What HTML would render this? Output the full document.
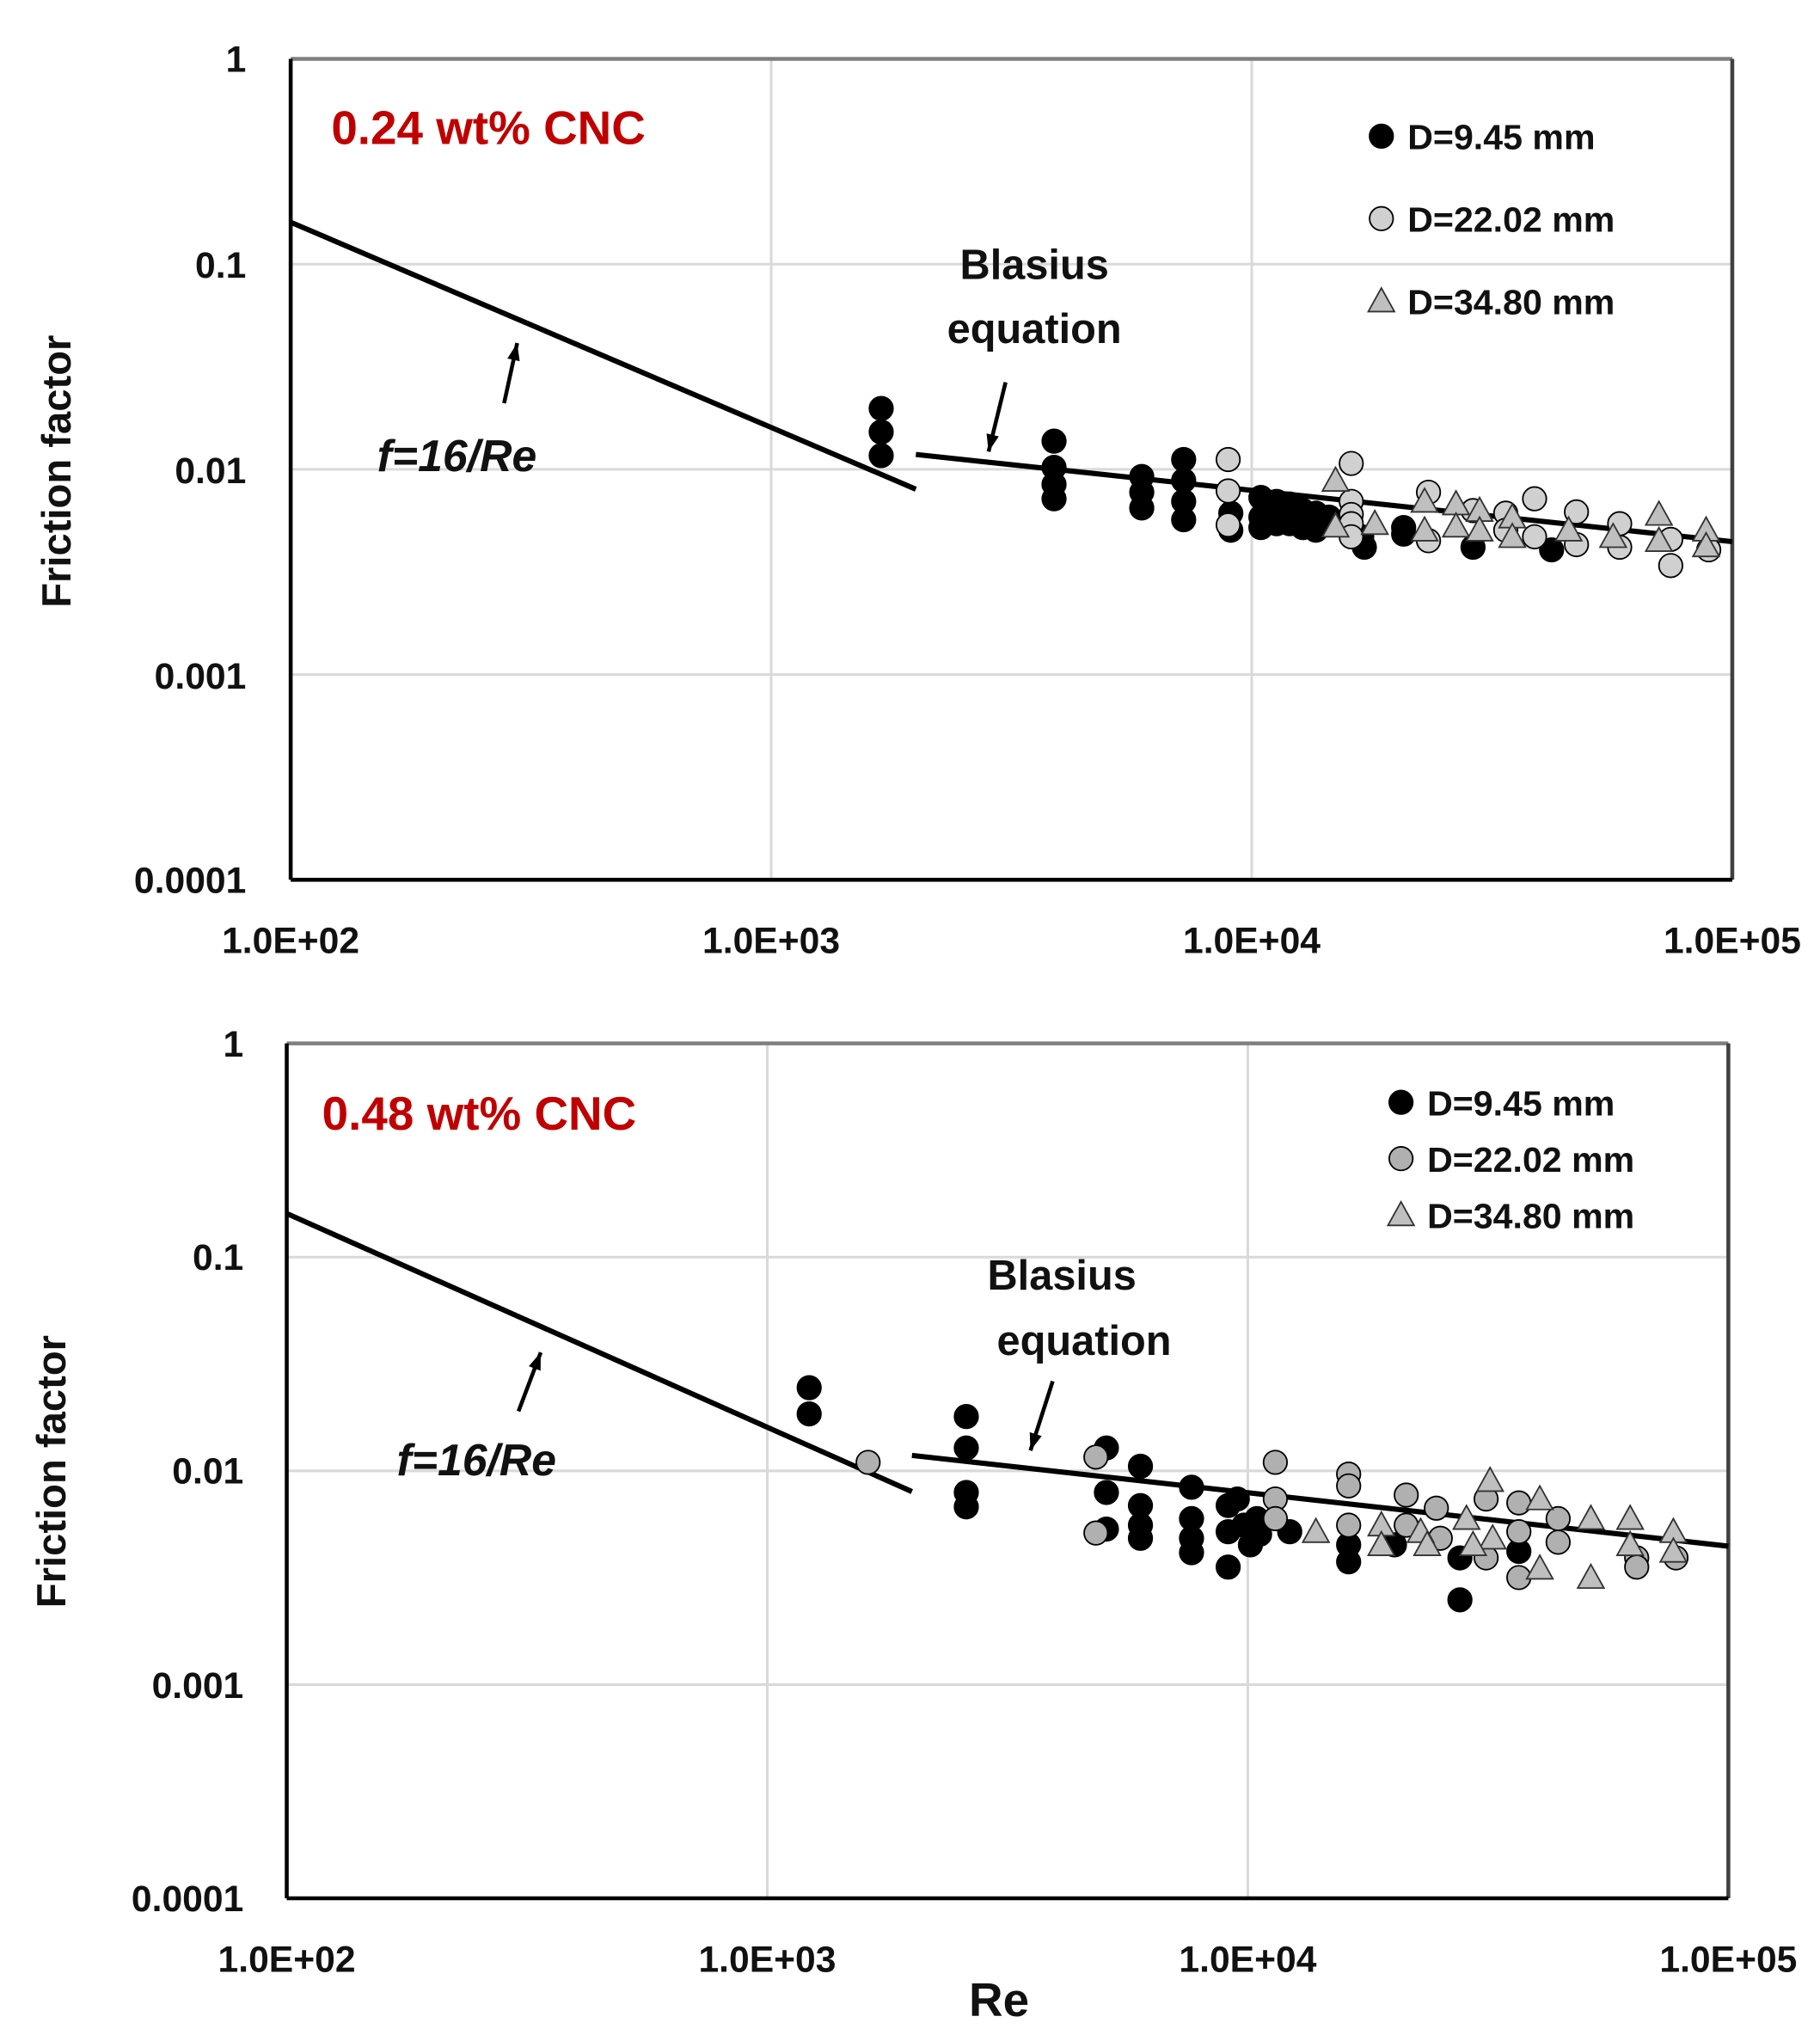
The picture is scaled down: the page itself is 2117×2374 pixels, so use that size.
<!DOCTYPE html>
<html><head><meta charset="utf-8"><style>
html,body{margin:0;padding:0;background:#fff;}
svg{display:block;}
text{font-family:"Liberation Sans",sans-serif;font-weight:bold;fill:#111;}
</style></head><body>
<svg id="s" width="2117" height="2374" viewBox="0 0 1390 1559" preserveAspectRatio="none" xmlns="http://www.w3.org/2000/svg">
<g id="g1"></g>
<text x="188" y="55" font-size="28" text-anchor="end">1</text>
<text x="188" y="212" font-size="28" text-anchor="end">0.1</text>
<text x="188" y="369" font-size="28" text-anchor="end">0.01</text>
<text x="188" y="526" font-size="28" text-anchor="end">0.001</text>
<text x="188" y="682" font-size="28" text-anchor="end">0.0001</text>
<text x="222" y="728" font-size="28" text-anchor="middle">1.0E+02</text>
<text x="589" y="728" font-size="28" text-anchor="middle">1.0E+03</text>
<text x="956" y="728" font-size="28" text-anchor="middle">1.0E+04</text>
<text x="1323" y="728" font-size="28" text-anchor="middle">1.0E+05</text>
<text transform="translate(54,360) rotate(-90)" font-size="31" text-anchor="middle">Friction factor</text>
<text x="253" y="110" font-size="36" style="fill:#c00000">0.24 wt% CNC</text>
<text x="790" y="213" font-size="32" text-anchor="middle">Blasius</text>
<text x="790" y="262" font-size="32" text-anchor="middle">equation</text>
<text x="288" y="360" font-size="34" font-family="Liberation Serif" font-style="italic">f=16/Re</text>
<text x="1075" y="114" font-size="27">D=9.45 mm</text>
<text x="1075" y="177" font-size="27">D=22.02 mm</text>
<text x="1075" y="240" font-size="27">D=34.80 mm</text>
<text x="186" y="807" font-size="28" text-anchor="end">1</text>
<text x="186" y="970" font-size="28" text-anchor="end">0.1</text>
<text x="186" y="1133" font-size="28" text-anchor="end">0.01</text>
<text x="186" y="1297" font-size="28" text-anchor="end">0.001</text>
<text x="186" y="1460" font-size="28" text-anchor="end">0.0001</text>
<text x="219" y="1506" font-size="28" text-anchor="middle">1.0E+02</text>
<text x="586" y="1506" font-size="28" text-anchor="middle">1.0E+03</text>
<text x="953" y="1506" font-size="28" text-anchor="middle">1.0E+04</text>
<text x="1320" y="1506" font-size="28" text-anchor="middle">1.0E+05</text>
<text x="763" y="1540" font-size="36" text-anchor="middle">Re</text>
<text transform="translate(50,1124) rotate(-90)" font-size="31" text-anchor="middle">Friction factor</text>
<text x="246" y="863" font-size="36" style="fill:#c00000">0.48 wt% CNC</text>
<text x="811" y="985" font-size="32" text-anchor="middle">Blasius</text>
<text x="828" y="1035" font-size="32" text-anchor="middle">equation</text>
<text x="303" y="1127" font-size="34" font-family="Liberation Serif" font-style="italic">f=16/Re</text>
<text x="1090" y="852" font-size="27">D=9.45 mm</text>
<text x="1090" y="895" font-size="27">D=22.02 mm</text>
<text x="1090" y="938" font-size="27">D=34.80 mm</text>
</svg>
<script>
var NS="http://www.w3.org/2000/svg",g=document.getElementById("g1");
function el(t,a){var e=document.createElementNS(NS,t);for(var k in a)e.setAttribute(k,a[k]);g.appendChild(e);return e;}
function plot(L,R,T,B){
 var dy=(B-T)/4,dx=(R-L)/3;
 for(var i=1;i<4;i++){el("line",{x1:L,x2:R,y1:T+i*dy,y2:T+i*dy,stroke:"#d9d9d9","stroke-width":2});
  el("line",{x1:L+i*dx,x2:L+i*dx,y1:T,y2:B,stroke:"#d9d9d9","stroke-width":2});}
 el("line",{x1:L,x2:R,y1:T,y2:T,stroke:"#7f7f7f","stroke-width":3});
 el("line",{x1:R,x2:R,y1:T,y2:B,stroke:"#404040","stroke-width":3});
 el("line",{x1:L,x2:L,y1:T,y2:B,stroke:"#000","stroke-width":3});
 el("line",{x1:L,x2:R,y1:B,y2:B,stroke:"#000","stroke-width":3});
 function px(re){return L+dx*Math.log10(re/100);} function py(f){return T-dy*Math.log10(f);}
 el("line",{x1:px(100),y1:py(0.16),x2:px(2000),y2:py(0.008),stroke:"#000","stroke-width":4});
 el("line",{x1:px(2000),y1:py(0.079*Math.pow(2000,-0.25)),x2:px(1e5),y2:py(0.079*Math.pow(1e5,-0.25)),stroke:"#000","stroke-width":4});
}
function circ(p,fill){p.forEach(function(q){el("circle",{cx:q[0],cy:q[1],r:9,fill:fill,stroke:"#000","stroke-width":1.2});});}
function tri(p){p.forEach(function(q){var x=q[0],y=q[1];el("polygon",{points:(x-10)+","+(y+8)+" "+(x+10)+","+(y+8)+" "+x+","+(y-10),fill:"#bfbfbf",stroke:"#333","stroke-width":1.2});});}
function arrow(x1,y1,x2,y2){el("line",{x1:x1,y1:y1,x2:x2,y2:y2,stroke:"#000","stroke-width":3});
 var a=Math.atan2(y2-y1,x2-x1),s=14;
 el("polygon",{points:x2+","+y2+" "+(x2-s*Math.cos(a-0.35))+","+(y2-s*Math.sin(a-0.35))+" "+(x2-s*Math.cos(a+0.35))+","+(y2-s*Math.sin(a+0.35)),fill:"#000"});}
plot(222,1323,45,672);
plot(219,1320,797,1450);
arrow(385,308,395,262);arrow(768,292,755,345);
arrow(396,1078,413,1033);arrow(804,1055,787,1108);
circ([[673,312],[673,330],[673,348],[805,337],[805,357],[805,370],[805,381],[872,364],[872,376],[872,388],[904,351],[904,367],[904,383],[904,397],[940,392],[940,405],[963,380],[963,395],[963,403],[975,383],[975,400],[985,385],[985,400],[995,390],[995,403],[1005,392],[1005,405],[1015,395],[1040,410],[1042,418],[1072,403],[1072,408],[1125,418],[1185,420]],"#000");
circ([[938,351],[938,375],[938,401],[1032,354],[1032,383],[1032,393],[1032,400],[1032,410],[1091,376],[1091,413],[1125,390],[1150,392],[1172,381],[1172,410],[1204,391],[1204,416],[1237,400],[1237,418],[1276,432],[1276,412],[1305,420],[1150,405]],"#d0d0d0");
tri([[1020,367],[1020,402],[1088,383],[1088,405],[1112,385],[1112,402],[1130,390],[1130,405],[1155,395],[1155,410],[1198,405],[1232,410],[1267,393],[1267,413],[1303,405],[1303,417],[1050,400]]);
circ([[618,1060],[618,1080],[738,1082],[738,1106],[738,1140],[738,1151],[845,1106],[845,1140],[845,1168],[871,1120],[871,1150],[871,1165],[871,1175],[910,1136],[910,1160],[910,1175],[910,1186],[938,1150],[938,1170],[938,1197],[945,1145],[950,1165],[955,1180],[960,1160],[962,1172],[985,1170],[1030,1180],[1030,1193],[1065,1180],[1115,1190],[1115,1222],[1160,1185]],"#000");
circ([[663,1117],[837,1113],[837,1171],[974,1117],[974,1145],[974,1160],[1030,1126],[1030,1135],[1030,1165],[1074,1142],[1074,1165],[1097,1152],[1135,1145],[1135,1190],[1160,1148],[1160,1205],[1190,1160],[1190,1178],[1250,1190],[1250,1197],[1280,1190],[1100,1175],[1160,1170]],"#b0b0b0");
tri([[1005,1170],[1055,1165],[1055,1180],[1085,1170],[1090,1180],[1120,1160],[1138,1131],[1140,1175],[1176,1145],[1176,1198],[1215,1160],[1215,1205],[1245,1160],[1245,1180],[1278,1170],[1278,1185],[1125,1180]]);
circ([[1055,104]],"#000");circ([[1055,167]],"#d0d0d0");tri([[1055,230]]);
circ([[1070,842]],"#000");circ([[1070,885]],"#b0b0b0");tri([[1070,928]]);
</script>
</body></html>
